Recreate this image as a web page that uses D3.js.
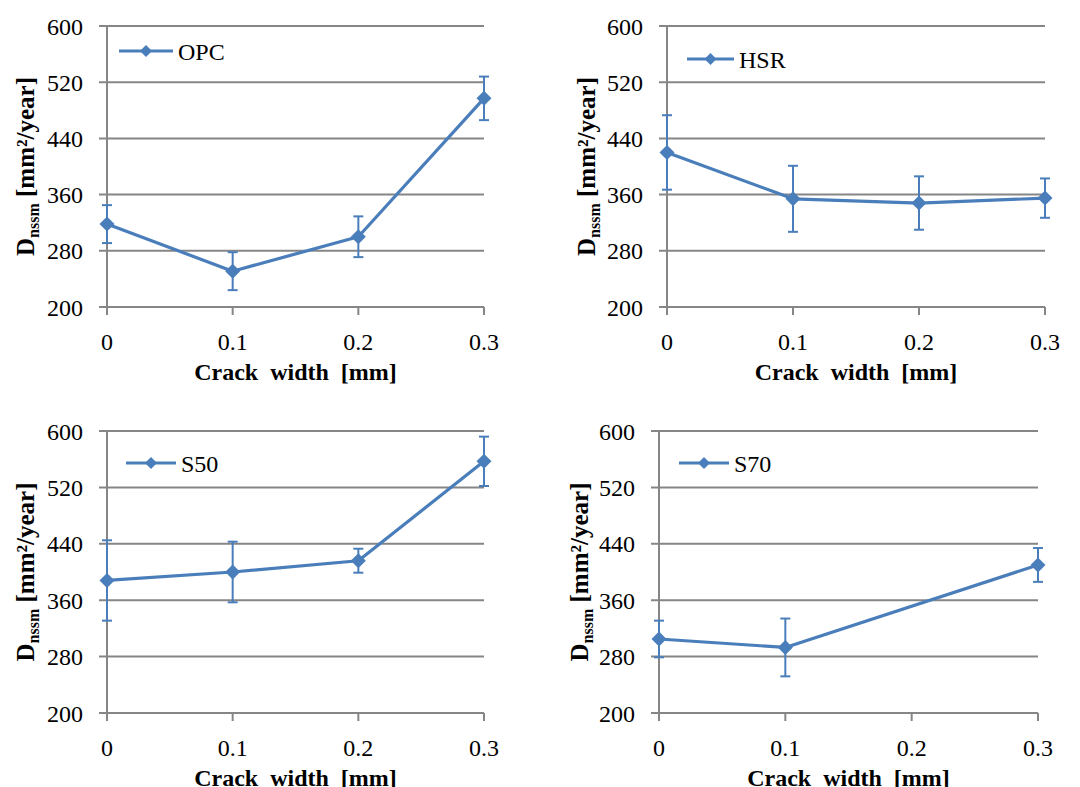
<!DOCTYPE html>
<html>
<head>
<meta charset="utf-8">
<script src="https://cdn.jsdelivr.net/npm/d3@7"></script>
<style>
  html, body { margin: 0; padding: 0; background: #fff; }
  svg { display: block; }
</style>
</head>
<body>
<svg id="chart" width="1080" height="787"></svg>
<script>
// ---- data ----
const seriesNames = ["OPC", "HSR", "S50", "S70"];
const opcX = [0, 0.1, 0.2, 0.3];
const opcY = [318, 251, 300, 497];
const opcErr = [27, 27, 29, 31];
const hsrX = [0, 0.1, 0.2, 0.3];
const hsrY = [420, 354, 348, 355];
const hsrErr = [53, 47, 38, 28];
const s50X = [0, 0.1, 0.2, 0.3];
const s50Y = [388, 400, 416, 557];
const s50Err = [57, 43, 17, 35];
const s70X = [0, 0.1, 0.3];
const s70Y = [305, 293, 410];
const s70Err = [26, 41, 24];
const xTicks = [0, 0.1, 0.2, 0.3];
const xTickLabels = ["0", "0.1", "0.2", "0.3"];
const yTicks = [200, 280, 360, 440, 520, 600];
const xTitle = "Crack  width  [mm]";

// ---- layout ----
const panels = [
  { name: seriesNames[0], xs: opcX, ys: opcY, es: opcErr, left: 107, right: 484, top: 26, bottom: 307, titleX: 34, lg: [119, 173, 51] },
  { name: seriesNames[1], xs: hsrX, ys: hsrY, es: hsrErr, left: 667, right: 1045, top: 26, bottom: 307, titleX: 595, lg: [687, 734, 59] },
  { name: seriesNames[2], xs: s50X, ys: s50Y, es: s50Err, left: 107, right: 484, top: 431, bottom: 713, titleX: 34, lg: [126, 176, 463] },
  { name: seriesNames[3], xs: s70X, ys: s70Y, es: s70Err, left: 659, right: 1038, top: 431, bottom: 713, titleX: 588, lg: [679, 729, 463] }
];

const FONT = "'Liberation Serif', 'Times New Roman', Times, serif";
const blue = "#4A7EBB";
const grid = "#868686";
const svg = d3.select("#chart").style("font-family", FONT);

function diamond(r) {
  return `M0,${-r}L${r},0L0,${r}L${-r},0Z`;
}

panels.forEach(p => {
  const g = svg.append("g");
  const x = d3.scaleLinear().domain([0, 0.3]).range([p.left, p.right]);
  const y = d3.scaleLinear().domain([200, 600]).range([p.bottom, p.top]);

  g.selectAll("line.grid").data(yTicks).enter().append("line")
    .attr("x1", p.left - 8).attr("x2", p.right)
    .attr("y1", d => y(d)).attr("y2", d => y(d))
    .attr("stroke", grid).attr("stroke-width", 2);

  g.append("line").attr("x1", p.left).attr("x2", p.left)
    .attr("y1", p.top).attr("y2", p.bottom)
    .attr("stroke", grid).attr("stroke-width", 2);

  g.selectAll("line.xt").data(xTicks).enter().append("line")
    .attr("x1", d => x(d)).attr("x2", d => x(d))
    .attr("y1", p.bottom).attr("y2", p.bottom + 8)
    .attr("stroke", grid).attr("stroke-width", 2);

  g.selectAll("text.yl").data(yTicks).enter().append("text")
    .style("font-family", FONT)
    .attr("x", p.left - 24).attr("y", d => y(d))
    .attr("dy", "0.36em")
    .attr("text-anchor", "end")
    .attr("font-size", 24)
    .text(d => d);

  g.selectAll("text.xl").data(xTicks).enter().append("text")
    .style("font-family", FONT)
    .attr("x", d => x(d)).attr("y", p.bottom + 43)
    .attr("text-anchor", "middle")
    .attr("font-size", 24)
    .text((d, i) => xTickLabels[i]);

  g.append("text")
    .style("font-family", FONT)
    .attr("x", (p.left + p.right) / 2).attr("y", p.bottom + 73)
    .attr("text-anchor", "middle")
    .attr("font-size", 24).attr("font-weight", "bold")
    .attr("xml:space", "preserve")
    .style("white-space", "pre")
    .text(xTitle);

  const yt = g.append("text")
    .style("font-family", FONT)
    .attr("transform", `translate(${p.titleX},${(p.top + p.bottom) / 2}) rotate(-90)`)
    .attr("text-anchor", "middle")
    .attr("font-size", 25).attr("font-weight", "bold");
  yt.append("tspan").text("D");
  yt.append("tspan").attr("font-size", 16).attr("dy", 5).text("nssm");
  yt.append("tspan").attr("dy", -5).text(" [mm²/year]");

  const pts = p.xs.map((v, i) => ({ x: v, y: p.ys[i], e: p.es[i] }));
  const eb = g.append("g").attr("stroke", blue).attr("stroke-width", 2);
  pts.forEach(d => {
    eb.append("line").attr("x1", x(d.x)).attr("x2", x(d.x))
      .attr("y1", y(d.y - d.e)).attr("y2", y(d.y + d.e));
    eb.append("line").attr("x1", x(d.x) - 5).attr("x2", x(d.x) + 5)
      .attr("y1", y(d.y - d.e)).attr("y2", y(d.y - d.e));
    eb.append("line").attr("x1", x(d.x) - 5).attr("x2", x(d.x) + 5)
      .attr("y1", y(d.y + d.e)).attr("y2", y(d.y + d.e));
  });

  g.append("path").datum(pts)
    .attr("fill", "none").attr("stroke", blue).attr("stroke-width", 3.2)
    .attr("stroke-linejoin", "round")
    .attr("d", d3.line().x(d => x(d.x)).y(d => y(d.y)));

  g.selectAll("path.mk").data(pts).enter().append("path")
    .attr("transform", d => `translate(${x(d.x)},${y(d.y)})`)
    .attr("d", diamond(7.5))
    .attr("fill", blue);

  const [lx1, lx2, ly] = p.lg;
  g.append("line").attr("x1", lx1).attr("x2", lx2).attr("y1", ly).attr("y2", ly)
    .attr("stroke", blue).attr("stroke-width", 3.2);
  g.append("path").attr("transform", `translate(${(lx1 + lx2) / 2},${ly})`)
    .attr("d", diamond(6)).attr("fill", blue);
  g.append("text").style("font-family", FONT)
    .attr("x", lx2 + 5).attr("y", ly + 9)
    .attr("font-size", 24).text(p.name);
});
</script>
</body>
</html>
